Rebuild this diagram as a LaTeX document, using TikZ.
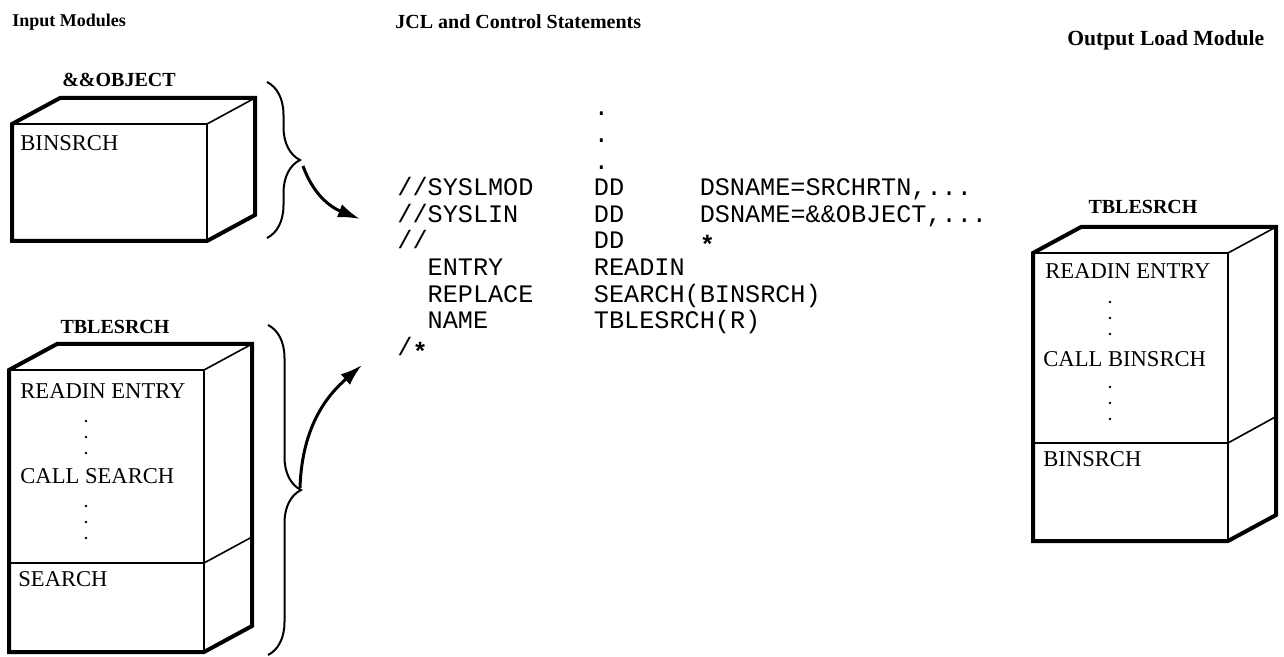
\documentclass[tikz,border=0pt]{standalone}
\usepackage{fontspec}
\setmainfont{Liberation Serif}
\setmonofont{Liberation Mono}
\usetikzlibrary{arrows.meta,decorations.pathreplacing}

\tikzset{
  outline/.style={line width=2pt},
  inner/.style={line width=0.8pt},
  curly/.style={decorate, decoration={brace, amplitude=16.5pt}, line width=1pt},
  flow/.style={line width=1.5pt, -{Latex[length=11pt,width=7pt]}},
  heading/.style={font=\bfseries\fontsize{#1}{12}\selectfont, inner sep=0pt, anchor=west},
  modname/.style={font=\bfseries\fontsize{10}{12}\selectfont, inner sep=0pt},
  entry/.style={font=\fontsize{11.3}{13}\selectfont, anchor=west, inner sep=0pt},
  jcltext/.style={font=\ttfamily\fontsize{12.6}{13.3}\selectfont, inner sep=0pt, anchor=base west}
}

% module box: front face from (#1,#2) to (#3,#4), depth 48 right and 26 up
\newcommand{\modbox}[4]{%
  \draw[outline] (#1,#4) -- (#1,#2) -- ++(48,-26) -- ({#3+48},{#2-26})
    -- ({#3+48},{#4-26}) -- (#3,#4) -- cycle;
  \draw[inner] (#1,#2) -- (#3,#2) -- (#3,#4) (#3,#2) -- ++(48,-26);
}
% wide text that runs over its column
\newcommand{\wide}[1]{\leavevmode\rlap{#1}}
% asterisk set lower, as on the listing
\newcommand{\jclstar}{\raisebox{-0.35ex}{\textbf{*}}}

\begin{document}
\begin{tikzpicture}[x=0.5pt,y=-0.5pt]
  \useasboundingbox (0,0) rectangle (1284,657);

  % Column headings
  \node[heading=9] (inhead) at (12,22) {Input Modules};
  \node[heading=10] (jclhead) at (395,22) {JCL and Control Statements};
  \node[heading=10.8] (outhead) at (1067,40) {Output Load Module};

  % Input module &&OBJECT
  \modbox{12}{124}{207}{241}
  \node[modname] (objname) at (119,80) {\&\&OBJECT};
  \node[entry] (objbin) at (20,143) {BINSRCH};

  % Input module TBLESRCH
  \modbox{9}{370}{204}{652}
  \draw[inner] (9,563) -- (204,563) -- ++(48,-26);
  \node[modname] (tblname) at (115,327) {TBLESRCH};
  \node[entry] (tblentry) at (20,391) {READIN ENTRY};
  \node[entry] (tblcall) at (20,476) {CALL SEARCH};
  \node[entry] (tblsearch) at (18,579) {SEARCH};
  \foreach \y in {421,437,453,506,522,538}
    \fill (86,\y) circle (1.4);

  % Output load module TBLESRCH
  \modbox{1033}{253}{1228}{541}
  \draw[inner] (1033,443) -- (1228,443) -- ++(49,-27);
  \node[modname] (outname) at (1143,207) {TBLESRCH};
  \node[entry] (outentry) at (1045,271) {READIN ENTRY};
  \node[entry] (outcall) at (1043,359) {CALL BINSRCH};
  \node[entry] (outbin) at (1043,459) {BINSRCH};
  \foreach \y in {302,318,334,387,403,419}
    \fill (1110,\y) circle (1.4);

  % Braces round the input modules
  \draw[curly] (267,82) -- (267,238);
  \draw[curly] (268,325) -- (268,655);
  \coordinate (objtip) at (303,166);
  \coordinate (tbltip) at (300,488);

  % Job control statements
  \node[jcltext] (jcl) at (397,116) {%
    \begin{tabular}[t]{@{}p{7.8em}@{}p{4.2em}@{}l@{}}
      & . & \\
      & . & \\
      & . & \\
      //SYSLMOD & DD & DSNAME=SRCHRTN,...\\
      //SYSLIN & DD & DSNAME=\&\&OBJECT,...\\
      // & DD & \jclstar\\
      \hspace*{1.2em}ENTRY & READIN & \\
      \hspace*{1.2em}REPLACE & \wide{SEARCH(BINSRCH)} & \\
      \hspace*{1.2em}NAME & \wide{TBLESRCH(R)} & \\
      /\jclstar & & \\
    \end{tabular}};
  \coordinate (objin) at (360,219);
  \coordinate (tblin) at (362,365);

  % Arrows into the JCL
  \draw[flow] (objtip) .. controls +(10,28) and +(-30,-12) .. (objin);
  \draw[flow] (tbltip) .. controls +(2,-65) and +(-32,28) .. (tblin);
\end{tikzpicture}
\end{document}
